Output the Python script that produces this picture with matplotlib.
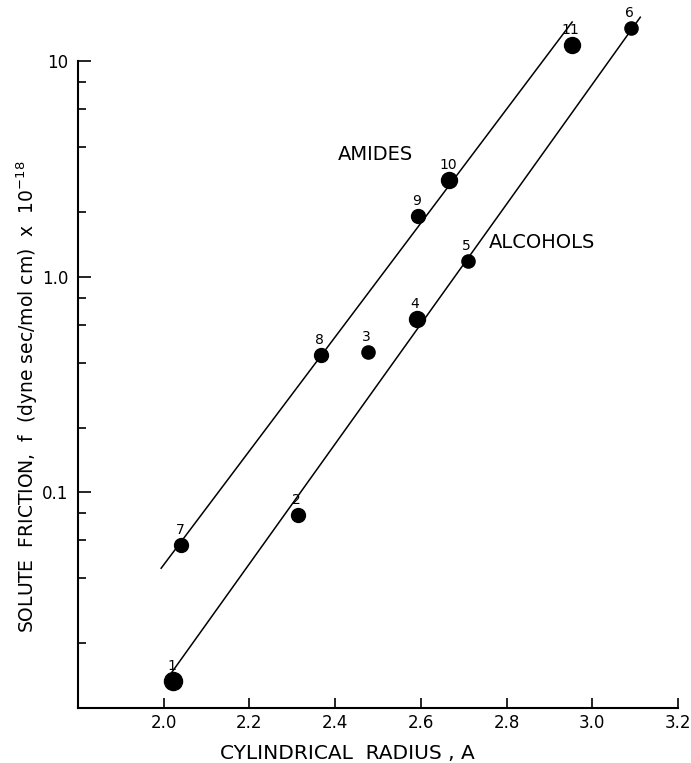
import matplotlib.pyplot as plt
from matplotlib.ticker import FixedLocator, NullFormatter

# alcohols (points 1-6)
alc_id = ['1', '2', '3', '4', '5', '6']
alc_r = [2.022, 2.313, 2.476, 2.590, 2.709, 3.090]
alc_f = [0.0134, 0.0787, 0.449, 0.638, 1.19, 14.3]
alc_size = [13, 10, 9.5, 11.5, 9.5, 9.5]

# amides (points 7-11)
ami_id = ['7', '8', '9', '10', '11']
ami_r = [2.041, 2.367, 2.594, 2.666, 2.952]
ami_f = [0.057, 0.435, 1.92, 2.82, 11.9]
ami_size = [10, 10, 10, 11.5, 11.5]

# fitted lines (end points)
alc_fit_r = [2.019, 3.112]
alc_fit_f = [0.01465, 16.0]
ami_fit_r = [1.994, 2.953]
ami_fit_f = [0.0445, 15.2]

xticks = [2.0, 2.2, 2.4, 2.6, 2.8, 3.0, 3.2]
yticks = [0.1, 1.0, 10]
ytick_labels = ['0.1', '1.0', '10']

fig = plt.figure(figsize=(6.91, 7.63), dpi=100)
ax = fig.add_axes([78 / 691, 1 - 708 / 763, 600 / 691, 708 / 763])

ax.plot(alc_fit_r, alc_fit_f, color='black', lw=1.1, clip_on=False)
ax.plot(ami_fit_r, ami_fit_f, color='black', lw=1.1, clip_on=False)

for r, f, s, n in zip(alc_r + ami_r, alc_f + ami_f, alc_size + ami_size, alc_id + ami_id):
    ax.plot(r, f, 'o', color='black', ms=s, clip_on=False, zorder=3)
    ax.annotate(n, (r, f), xytext=(-1, 10.5), textcoords='offset points',
                ha='center', va='center', fontsize=10)

ax.text(2.493, 3.71, 'AMIDES', fontsize=14, ha='center', va='center')
ax.text(2.883, 1.45, 'ALCOHOLS', fontsize=14, ha='center', va='center')

ax.set_yscale('log')
ax.set_xlim(1.8, 3.2)
ax.set_ylim(0.01, 19.23)

ax.set_xticks(xticks)
ax.set_xticklabels(['%.1f' % t for t in xticks])
ax.yaxis.set_major_locator(FixedLocator(yticks))
ax.set_yticklabels(ytick_labels)
minor = [m * d for d in [0.01, 0.1, 1.0] for m in [2, 4, 6, 8]]
ax.yaxis.set_minor_locator(FixedLocator(minor))
ax.yaxis.set_minor_formatter(NullFormatter())

ax.tick_params(axis='x', direction='in', length=7, width=1.2, labelsize=12, pad=4)
ax.tick_params(axis='y', which='major', direction='in', length=9, width=1.2,
               labelsize=12, pad=7)
ax.tick_params(axis='y', which='minor', direction='in', length=6, width=1.2)

for side in ['top', 'right']:
    ax.spines[side].set_visible(False)
ax.spines['left'].set_linewidth(1.5)
ax.spines['bottom'].set_linewidth(1.5)
ax.spines['left'].set_bounds(0.01, 10)

ax.set_xlabel('CYLINDRICAL  RADIUS , A', fontsize=14.5)
ax.xaxis.set_label_coords(269 / 600, -36 / 708)
ax.set_ylabel('SOLUTE  FRICTION,  f  (dyne sec/mol cm)  x  10$^{-18}$', fontsize=13.5)
ax.yaxis.set_label_coords(-38 / 600, 0.44)

fig.savefig('out.png', dpi=100)
